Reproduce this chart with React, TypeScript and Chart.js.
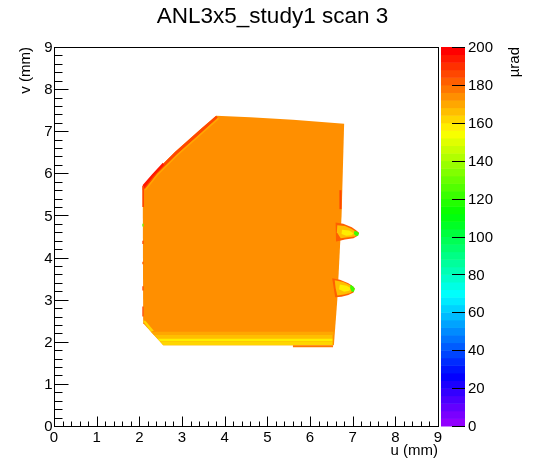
import React, { useEffect, useRef } from "react";
import { Chart, registerables } from "chart.js";

Chart.register(...registerables);

// ---------- texts ----------
const TITLE = "ANL3x5_study1 scan 3";
const U_TITLE = "u (mm)";
const V_TITLE = "v (mm)";
const Z_TITLE = "µrad";

// ---------- axes ----------
const U_MIN = 0;
const U_MAX = 9;
const V_MIN = 0;
const V_MAX = 9;
const Z_MIN = 0;
const Z_MAX = 200;
const N_CONTOURS = 50;
const U_TICKS = [0, 1, 2, 3, 4, 5, 6, 7, 8, 9];
const V_TICKS = [0, 1, 2, 3, 4, 5, 6, 7, 8, 9];
const Z_TICKS = [0, 20, 40, 60, 80, 100, 120, 140, 160, 180, 200];
const MINOR_DIV = 5;

// ---------- map regions (u, v in mm; z in µrad) ----------
// main sensor body
const bodyU = [3.8, 4.6, 5.6, 6.8, 6.74, 6.64, 6.56, 2.56, 2.09, 2.08, 2.37, 2.84, 3.46];
const bodyV = [7.37, 7.33, 7.27, 7.18, 5.0, 3.0, 1.92, 1.92, 2.44, 5.68, 6.04, 6.51, 7.07];
const bodyZ = 174;

// bottom strip bands
const stripAU = [2.27, 6.55, 6.55, 2.34];
const stripAV = [2.24, 2.24, 2.16, 2.16];
const stripAZ = 170;
const stripBU = [2.34, 6.53, 6.53, 2.42];
const stripBV = [2.16, 2.16, 2.08, 2.08];
const stripBZ = 165;
const stripCU = [2.42, 6.53, 6.53, 2.48];
const stripCV = [2.08, 2.08, 2.01, 2.01];
const stripCZ = 158;
const stripDU = [2.48, 6.53, 6.53, 2.56];
const stripDV = [2.01, 2.01, 1.92, 1.92];
const stripDZ = 162;
const chamferU = [2.08, 2.14, 2.34, 2.27];
const chamferV = [2.5, 2.5, 2.26, 2.24];
const chamferZ = 162;
const bottomLineU = [5.6, 6.54, 6.54, 5.6];
const bottomLineV = [1.92, 1.92, 1.87, 1.87];
const bottomLineZ = 178;

// diagonal edge bands
const diagOuterU = [2.08, 2.37, 2.84, 3.46, 3.8, 3.84, 3.51, 2.89, 2.42, 2.13];
const diagOuterV = [5.68, 6.04, 6.51, 7.07, 7.37, 7.32, 7.02, 6.46, 5.99, 5.62];
const diagOuterZ = 184;
const diagInnerU = [2.13, 2.42, 2.89, 3.51, 3.84, 3.87, 3.53, 2.91, 2.44, 2.15];
const diagInnerV = [5.62, 5.99, 6.46, 7.02, 7.32, 7.29, 6.99, 6.43, 5.96, 5.59];
const diagInnerZ = 168;
const diagRedU = [2.08, 2.08, 2.3, 2.55, 2.58, 2.33, 2.12];
const diagRedV = [5.6, 5.72, 5.98, 6.25, 6.2, 5.93, 5.66];
const diagRedZ = 194;

// small edge marks (rectangles)
const markU0 = [2.07, 2.07, 2.07, 2.07, 2.07, 2.07, 6.69];
const markU1 = [2.11, 2.1, 2.1, 2.1, 2.1, 2.1, 6.74];
const markV0 = [5.2, 4.32, 3.84, 3.22, 2.6, 4.74, 5.15];
const markV1 = [5.7, 4.4, 3.9, 3.32, 2.84, 4.8, 5.6];
const markZ = [186, 184, 182, 186, 184, 128, 184];

// upper tab
const tab1OuterU = [6.6, 6.78, 6.98, 7.08, 7.15, 7.11, 7.02, 6.82, 6.7, 6.61];
const tab1OuterV = [4.83, 4.8, 4.72, 4.65, 4.59, 4.51, 4.46, 4.43, 4.4, 4.38];
const tab1OuterZ = 182;
const tab1InnerU = [6.64, 6.82, 6.98, 7.07, 7.1, 7.06, 6.9, 6.72, 6.63];
const tab1InnerV = [4.77, 4.75, 4.68, 4.62, 4.56, 4.5, 4.48, 4.46, 4.6];
const tab1InnerZ = 166;
const tab1CoreU = [6.75, 6.92, 7.02, 6.98, 6.85, 6.74];
const tab1CoreV = [4.66, 4.64, 4.58, 4.53, 4.52, 4.56];
const tab1CoreZ = 158;
const tab1TipU = [7.04, 7.1, 7.15, 7.13, 7.08, 7.03];
const tab1TipV = [4.63, 4.62, 4.58, 4.52, 4.51, 4.56];
const tab1TipZ = 120;

// lower tab
const tab2OuterU = [6.52, 6.7, 6.9, 7.0, 7.05, 7.02, 6.9, 6.74, 6.59];
const tab2OuterV = [3.51, 3.47, 3.39, 3.32, 3.27, 3.17, 3.11, 3.07, 3.06];
const tab2OuterZ = 182;
const tab2InnerU = [6.58, 6.78, 6.93, 7.0, 7.01, 6.95, 6.8, 6.64, 6.6];
const tab2InnerV = [3.46, 3.42, 3.35, 3.29, 3.23, 3.16, 3.12, 3.1, 3.28];
const tab2InnerZ = 166;
const tab2CoreU = [6.7, 6.86, 6.96, 6.92, 6.8, 6.68];
const tab2CoreV = [3.36, 3.33, 3.27, 3.21, 3.19, 3.25];
const tab2CoreZ = 158;
const tab2TipU = [6.95, 7.01, 7.05, 7.03, 6.98, 6.94];
const tab2TipV = [3.36, 3.31, 3.26, 3.19, 3.19, 3.27];
const tab2TipZ = 120;

// ---------- ROOT "pretty" palette ----------
function hls1(n1: number, n2: number, hue: number) {
  let h = hue;
  if (h > 360) h -= 360;
  if (h < 0) h += 360;
  if (h < 60) return n1 + ((n2 - n1) * h) / 60;
  if (h < 180) return n2;
  if (h < 240) return n1 + ((n2 - n1) * (240 - h)) / 60;
  return n1;
}
function paletteColor(k: number) {
  if (k >= N_CONTOURS - 1) return "rgb(255,0,0)";
  const hue = 280 - (k + 1) * (280 / 50);
  const r = Math.round(255 * hls1(0, 1, hue + 120));
  const g = Math.round(255 * hls1(0, 1, hue));
  const b = Math.round(255 * hls1(0, 1, hue - 120));
  return `rgb(${r},${g},${b})`;
}
function colorFor(z: number) {
  let k = Math.floor(((z - Z_MIN) / (Z_MAX - Z_MIN)) * N_CONTOURS);
  if (k < 0) k = 0;
  if (k > N_CONTOURS - 1) k = N_CONTOURS - 1;
  return paletteColor(k);
}

type Region = { u: number[]; v: number[]; z: number };
const rectRegions: Region[] = markU0.map((u0, i) => ({
  u: [u0, markU1[i], markU1[i], u0],
  v: [markV0[i], markV0[i], markV1[i], markV1[i]],
  z: markZ[i],
}));

const REGIONS: Region[] = [
  { u: bodyU, v: bodyV, z: bodyZ },
  { u: stripAU, v: stripAV, z: stripAZ },
  { u: stripBU, v: stripBV, z: stripBZ },
  { u: stripCU, v: stripCV, z: stripCZ },
  { u: stripDU, v: stripDV, z: stripDZ },
  { u: chamferU, v: chamferV, z: chamferZ },
  { u: bottomLineU, v: bottomLineV, z: bottomLineZ },
  { u: diagOuterU, v: diagOuterV, z: diagOuterZ },
  { u: diagInnerU, v: diagInnerV, z: diagInnerZ },
  { u: diagRedU, v: diagRedV, z: diagRedZ },
  ...rectRegions,
  { u: tab1OuterU, v: tab1OuterV, z: tab1OuterZ },
  { u: tab1InnerU, v: tab1InnerV, z: tab1InnerZ },
  { u: tab1CoreU, v: tab1CoreV, z: tab1CoreZ },
  { u: tab1TipU, v: tab1TipV, z: tab1TipZ },
  { u: tab2OuterU, v: tab2OuterV, z: tab2OuterZ },
  { u: tab2InnerU, v: tab2InnerV, z: tab2InnerZ },
  { u: tab2CoreU, v: tab2CoreV, z: tab2CoreZ },
  { u: tab2TipU, v: tab2TipV, z: tab2TipZ },
];

const FONT = '"Liberation Sans", Arial, Helvetica, sans-serif';

const rootPlugin = {
  id: "rootStyle",
  afterDatasetsDraw(chart: any) {
    const ctx = chart.ctx as CanvasRenderingContext2D;
    const a = chart.chartArea;
    ctx.save();
    ctx.beginPath();
    ctx.rect(a.left, a.top, a.right - a.left, a.bottom - a.top);
    ctx.clip();
    chart.data.datasets.forEach((ds: any, i: number) => {
      const pts = chart.getDatasetMeta(i).data;
      if (!pts || !pts.length) return;
      ctx.beginPath();
      pts.forEach((p: any, j: number) => (j ? ctx.lineTo(p.x, p.y) : ctx.moveTo(p.x, p.y)));
      ctx.closePath();
      ctx.fillStyle = ds.regionColor;
      ctx.fill();
    });
    ctx.restore();
  },
  afterDraw(chart: any) {
    const ctx = chart.ctx as CanvasRenderingContext2D;
    const a = chart.chartArea;
    const xs = chart.scales.x;
    const ys = chart.scales.y;
    const zs = chart.scales.z;
    ctx.save();
    ctx.strokeStyle = "#000";
    ctx.fillStyle = "#000";
    ctx.lineWidth = 1;
    const L = Math.round(a.left) + 0.5;
    const R = Math.round(a.right) + 0.5;
    const T = Math.round(a.top) + 0.5;
    const B = Math.round(a.bottom) + 0.5;
    ctx.strokeRect(L, T, R - L, B - T);

    // x ticks
    ctx.beginPath();
    for (let i = 0; i < U_TICKS.length; i++) {
      const px = Math.round(xs.getPixelForValue(U_TICKS[i])) + 0.5;
      ctx.moveTo(px, B);
      ctx.lineTo(px, B - 10);
      if (i < U_TICKS.length - 1) {
        for (let m = 1; m < MINOR_DIV; m++) {
          const uu = U_TICKS[i] + (m * (U_TICKS[i + 1] - U_TICKS[i])) / MINOR_DIV;
          const mx = Math.round(xs.getPixelForValue(uu)) + 0.5;
          ctx.moveTo(mx, B);
          ctx.lineTo(mx, B - 5);
        }
      }
    }
    // y ticks
    for (let i = 0; i < V_TICKS.length; i++) {
      const py = Math.round(ys.getPixelForValue(V_TICKS[i])) + 0.5;
      ctx.moveTo(L, py);
      ctx.lineTo(L + 14, py);
      if (i < V_TICKS.length - 1) {
        for (let m = 1; m < MINOR_DIV; m++) {
          const vv = V_TICKS[i] + (m * (V_TICKS[i + 1] - V_TICKS[i])) / MINOR_DIV;
          const my = Math.round(ys.getPixelForValue(vv)) + 0.5;
          ctx.moveTo(L, my);
          ctx.lineTo(L + 8, my);
        }
      }
    }
    ctx.stroke();

    // tick labels
    ctx.font = `15px ${FONT}`;
    ctx.textAlign = "center";
    ctx.textBaseline = "alphabetic";
    U_TICKS.forEach((u) => ctx.fillText(String(u), xs.getPixelForValue(u), 442));
    ctx.textAlign = "right";
    ctx.textBaseline = "middle";
    V_TICKS.forEach((v) => ctx.fillText(String(v), 52.5, ys.getPixelForValue(v) + 1));

    // palette
    const PX0 = 441;
    const PX1 = 465;
    for (let k = 0; k < N_CONTOURS; k++) {
      const z0 = Z_MIN + ((Z_MAX - Z_MIN) * k) / N_CONTOURS;
      const z1 = Z_MIN + ((Z_MAX - Z_MIN) * (k + 1)) / N_CONTOURS;
      const y0 = zs.getPixelForValue(z1);
      const y1 = zs.getPixelForValue(z0);
      ctx.fillStyle = paletteColor(k);
      ctx.fillRect(PX0, y0, PX1 - PX0, y1 - y0 + 0.5);
    }
    ctx.fillStyle = "#000";
    ctx.beginPath();
    Z_TICKS.forEach((z) => {
      const py = Math.round(zs.getPixelForValue(z)) + 0.5;
      ctx.moveTo(PX1, py);
      ctx.lineTo(PX1 - 13, py);
    });
    ctx.stroke();
    ctx.textAlign = "left";
    ctx.textBaseline = "middle";
    Z_TICKS.forEach((z) => ctx.fillText(String(z), 468, zs.getPixelForValue(z) + 1));

    // titles
    ctx.font = `22.5px ${FONT}`;
    ctx.textAlign = "center";
    ctx.textBaseline = "alphabetic";
    ctx.fillText(TITLE, 272.5, 23);

    ctx.font = `15px ${FONT}`;
    ctx.textAlign = "right";
    ctx.fillText(U_TITLE, a.right, 455);

    ctx.save();
    ctx.translate(30, a.top);
    ctx.rotate(-Math.PI / 2);
    ctx.textAlign = "right";
    ctx.fillText(V_TITLE, 0, 0);
    ctx.restore();

    ctx.save();
    ctx.translate(519, a.top);
    ctx.rotate(-Math.PI / 2);
    ctx.textAlign = "right";
    ctx.fillText(Z_TITLE, 0, 0);
    ctx.restore();

    ctx.restore();
  },
};

export default function App() {
  const ref = useRef<HTMLCanvasElement>(null);
  useEffect(() => {
    const canvas = ref.current;
    if (!canvas) return;
    const datasets = REGIONS.map((r) => ({
      data: r.u.map((u, i) => ({ x: u, y: r.v[i] })),
      pointRadius: 0,
      pointHoverRadius: 0,
      showLine: false,
      regionColor: colorFor(r.z),
    }));
    const chart = new Chart(canvas, {
      type: "scatter",
      data: { datasets: datasets as any },
      options: {
        animation: false,
        responsive: false,
        maintainAspectRatio: false,
        events: [],
        layout: { padding: { left: 54, top: 47, right: 110, bottom: 48 } },
        plugins: { legend: { display: false }, tooltip: { enabled: false }, title: { display: false } },
        scales: {
          x: { type: "linear", min: U_MIN, max: U_MAX, display: false },
          y: { type: "linear", min: V_MIN, max: V_MAX, display: false },
          z: { type: "linear", position: "right", min: Z_MIN, max: Z_MAX, display: false },
        },
      },
      plugins: [rootPlugin],
    });
    return () => chart.destroy();
  }, []);
  return (
    <div style={{ position: "absolute", left: 0, top: 0, width: 548, height: 474, background: "#fff" }}>
      <canvas ref={ref} width={548} height={474} style={{ display: "block", width: 548, height: 474 }} />
    </div>
  );
}
